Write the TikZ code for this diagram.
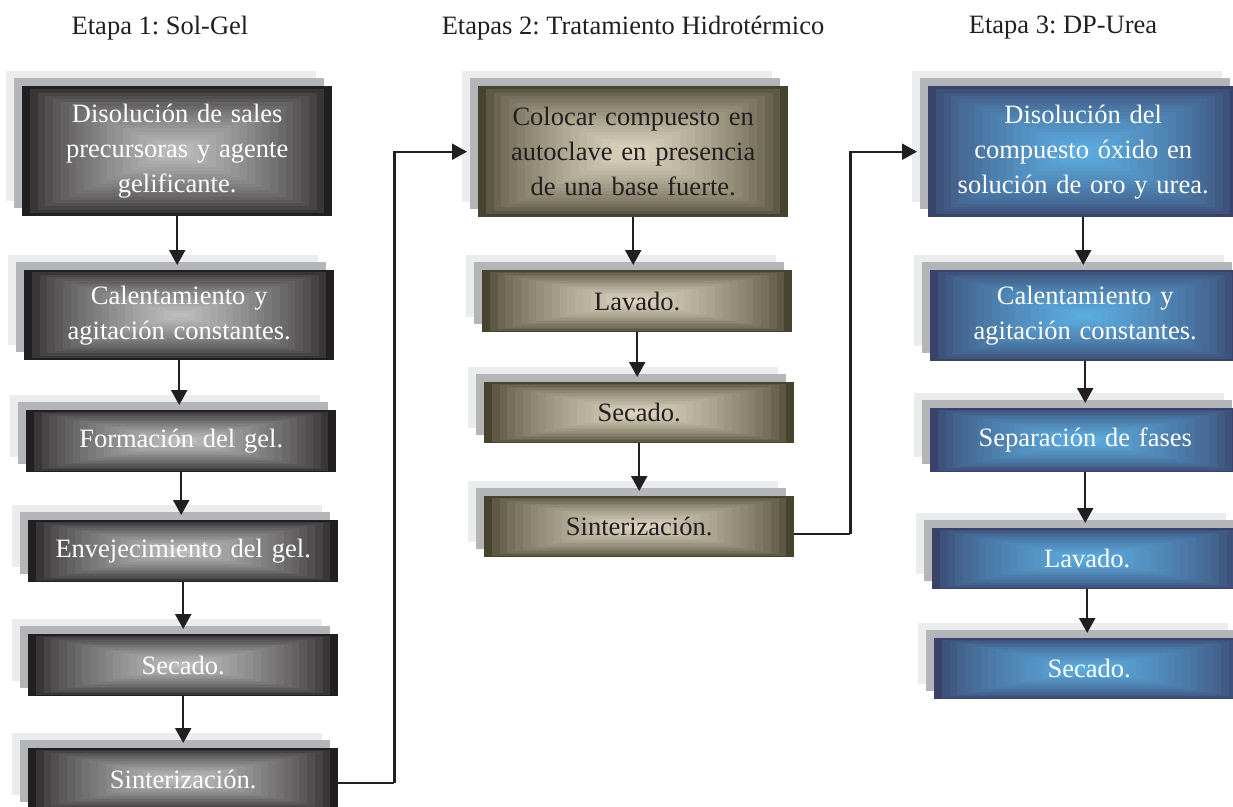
\documentclass[tikz,border=0pt]{standalone}
\usepackage{fontspec}
\setmainfont{Liberation Serif}
\usetikzlibrary{calc,arrows.meta}
\frenchspacing
\definecolor{ink}{HTML}{231F20}
\definecolor{shlight}{HTML}{EBEDEC}
\definecolor{shmid}{HTML}{B3B5B8}
\definecolor{gEdge}{HTML}{221F20}
\definecolor{gCen}{HTML}{BDBDBD}
\definecolor{oEdge}{HTML}{48432F}
\definecolor{oCen}{HTML}{DCD4BF}
\definecolor{bEdge}{HTML}{39436A}
\definecolor{bCen}{HTML}{5CACE0}
\newcommand\boxfont{\fontsize{26.5}{35}\selectfont}
\newcommand\titlefont{\fontsize{26.5}{30}\selectfont}
\tikzset{
  stagebox/.style 2 args={inner sep=0pt, anchor=north west, minimum width=310pt,
    align=center, text width=300pt, font=\boxfont,
    preaction={fill=shlight, transform canvas={shift={(-16pt,15pt)}}},
    preaction={fill=shmid, transform canvas={shift={(-8pt,8pt)}}},
    path picture={
      \foreach \k in {0,...,19}{
        \pgfmathsetmacro\t{1-\k/20}
        \pgfmathsetmacro\p{100*(\k/19)^0.65}
        \fill[#2!\p!#1]
          ($(path picture bounding box.center)!\t!(path picture bounding box.south west)$)
          rectangle
          ($(path picture bounding box.center)!\t!(path picture bounding box.north east)$);
      }
    }},
  graybox/.style={stagebox={gEdge}{gCen}, text=white},
  olivebox/.style={stagebox={oEdge}{oCen}, text=ink},
  bluebox/.style={stagebox={bEdge}{bCen}, text=white},
  conn/.style={draw=ink, line width=2.2pt, -{Triangle[width=16pt,length=15pt]}},
  link/.style={draw=ink, line width=2.2pt},
  title/.style={font=\titlefont, text=ink, inner sep=0pt}
}
\begin{document}
\begin{tikzpicture}[x=1pt,y=-1pt]
\useasboundingbox[fill=white] (0,0) rectangle (1233,806);

\node[title] (t1) at (160,28) {Etapa 1: Sol-Gel};
\node[title] (t2) at (633,28) {Etapas 2: Tratamiento Hidrotérmico};
\node[title] (t3) at (1063,28) {Etapa 3: DP-Urea};

% column 1
\node[graybox, minimum height=130pt] (a1) at (22,86) {Disolución de sales\\precursoras y agente\\gelificante.};
\node[graybox, minimum height=90pt] (a2) at (24,270) {Calentamiento y\\agitación constantes.};
\node[graybox, minimum height=62pt] (a3) at (26,410) {Formación del gel.};
\node[graybox, minimum height=62pt] (a4) at (28,520) {Envejecimiento del gel.};
\node[graybox, minimum height=62pt] (a5) at (28,634) {Secado.};
\node[graybox, minimum height=62pt] (a6) at (28,748) {Sinterización.};

% column 2
\node[olivebox, minimum height=131pt] (b1) at (478,86) {Colocar compuesto en\\autoclave en presencia\\de una base fuerte.};
\node[olivebox, minimum height=62pt] (b2) at (482,270) {Lavado.};
\node[olivebox, minimum height=61pt] (b3) at (484,382) {Secado.};
\node[olivebox, minimum height=61pt] (b4) at (484,496) {Sinterización.};

% column 3
\node[bluebox, minimum height=131pt] (c1) at (928,86) {Disolución del\\compuesto óxido en\\solución de oro y urea.};
\node[bluebox, minimum height=91pt] (c2) at (930,270) {Calentamiento y\\agitación constantes.};
\node[bluebox, minimum height=64pt] (c3) at (930,408) {Separación de fases};
\node[bluebox, minimum height=61pt] (c4) at (932,528) {Lavado.};
\node[bluebox, minimum height=61pt] (c5) at (934,638) {Secado.};

% vertical arrows
\foreach \u/\v in {a1/a2,a2/a3,a3/a4,a4/a5,a5/a6,b1/b2,b2/b3,b3/b4,c1/c2,c2/c3,c3/c4,c4/c5}{
  \draw[conn] (\u.south) -- ([yshift=5pt]\u.south |- \v.north);
}

% cross-stage links
\coordinate (k1) at ($(a6.east)+(56,4)$);
\draw[link] ([yshift=-4pt]a6.east) -- (k1);
\draw[conn] (k1) |- ([xshift=-11pt]b1.west);
\coordinate (k2) at ($(b4.east)+(56,7)$);
\draw[link] ([yshift=-7pt]b4.east) -- (k2);
\draw[conn] (k2) |- ([xshift=-11pt]c1.west);
\end{tikzpicture}
\end{document}
